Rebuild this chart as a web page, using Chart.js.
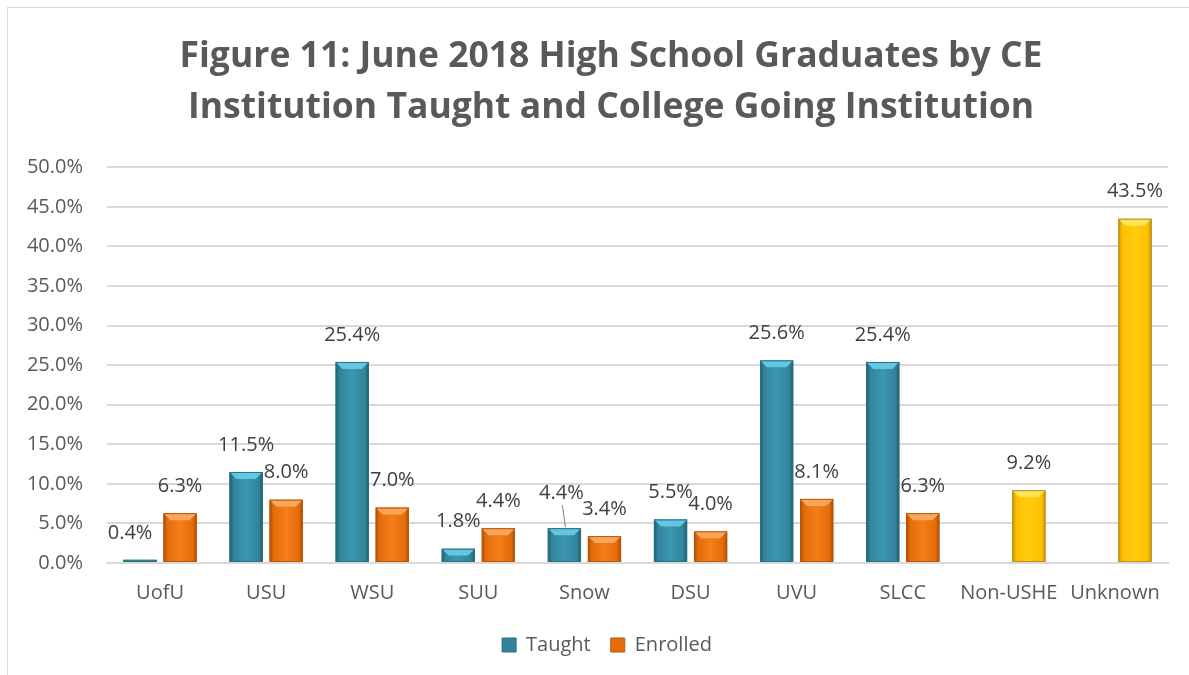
<!DOCTYPE html>
<html>
<head>
<meta charset="utf-8">
<script src="https://cdn.jsdelivr.net/npm/chart.js@4.4.1/dist/chart.umd.min.js"></script>
<style>
  html, body { margin: 0; padding: 0; background: #fff; overflow: hidden; }
  #frame { position: absolute; left: 7px; top: 7px; width: 1300px; height: 800px; border: 1px solid #d9d9d9; }
  #wrap { position: absolute; left: 0; top: 0; width: 1189px; height: 675px; }
</style>
</head>
<body>
<div id="frame"></div>
<div id="wrap"><canvas id="chart"></canvas></div>
<script>
// Datos del gráfico
const categories = ['UofU', 'USU', 'WSU', 'SUU', 'Snow', 'DSU', 'UVU', 'SLCC', 'Non-USHE', 'Unknown'];
const taught = [0.4, 11.5, 25.4, 1.8, 4.4, 5.5, 25.6, 25.4, null, null];
const enrolled = [6.3, 8.0, 7.0, 4.4, 3.4, 4.0, 8.1, 6.3, 9.2, 43.5];
const yTicks = [0, 5, 10, 15, 20, 25, 30, 35, 40, 45, 50];

const titleLines = ['Figure 11: June 2018 High School Graduates by CE', 'Institution Taught and College Going Institution'];

// colores (base, centro claro, borde oscuro, bisel)
const teal = { base: '#31849b', light: '#3b97b0', dark: '#1f5a6a', bevel: '#63c6e2', line: '#2a6f82' };
const orange = { base: '#e46c0a', light: '#f47e1a', dark: '#a94d05', bevel: '#f9a65a', line: '#b7580a' };
const yellow = { base: '#ffc000', light: '#ffcb10', dark: '#c99500', bevel: '#ffe45a', line: '#b39028' };

function enrolledPalette(i) {
    return taught[i] == null ? yellow : orange;
}

// etiquetas ligeramente desplazadas, como en el original
const labelNudge = { 'UofU-0': [-10, 0], 'Snow-0': [-3, -8] };

const FONT = "'Open Sans', 'DejaVu Sans', sans-serif";

// título y leyenda centrados sobre todo el marco, no solo el lienzo
const shiftBoxes = {
    id: 'shiftBoxes',
    afterLayout(chart) {
        chart.titleBlock.left += 27;
        chart.titleBlock.right += 27;
        chart.legend.left += 23;
        chart.legend.right += 23;
    }
};

const bevelBars = {
    id: 'bevelBars',
    afterDatasetsDraw(chart) {
        const ctx = chart.ctx;
        chart.data.datasets.forEach((ds, di) => {
            const meta = chart.getDatasetMeta(di);
            meta.data.forEach((bar, i) => {
                if (ds.data[i] == null) return;
                const p = bar.getProps(['x', 'y', 'base', 'width'], true);
                const pal = di === 0 ? teal : enrolledPalette(i);
                const l = p.x - p.width / 2, r = p.x + p.width / 2;
                const t = p.y, b = p.base;
                const h = b - t;
                const g = ctx.createLinearGradient(l, 0, r, 0);
                g.addColorStop(0, pal.dark);
                g.addColorStop(0.12, pal.base);
                g.addColorStop(0.5, pal.light);
                g.addColorStop(0.88, pal.base);
                g.addColorStop(1, pal.dark);
                ctx.save();
                ctx.fillStyle = g;
                ctx.fillRect(l, t, r - l, h);
                // bisel superior
                const bv = Math.min(7, h / 2);
                if (bv > 1) {
                    ctx.beginPath();
                    ctx.moveTo(l, t);
                    ctx.lineTo(r, t);
                    ctx.lineTo(r - 7, t + bv);
                    ctx.lineTo(l + 7, t + bv);
                    ctx.closePath();
                    ctx.fillStyle = pal.bevel;
                    ctx.fill();
                }
                ctx.strokeStyle = pal.line;
                ctx.lineWidth = 1;
                ctx.strokeRect(l + 0.5, t + 0.5, r - l - 1, h - 1);
                ctx.restore();
            });
        });
    }
};

const valueLabels = {
    id: 'valueLabels',
    afterDatasetsDraw(chart) {
        const ctx = chart.ctx;
        ctx.save();
        ctx.font = '20px ' + FONT;
        ctx.fillStyle = '#404040';
        ctx.textAlign = 'center';
        ctx.textBaseline = 'middle';
        chart.data.datasets.forEach((ds, di) => {
            const meta = chart.getDatasetMeta(di);
            meta.data.forEach((bar, i) => {
                const v = ds.data[i];
                if (v == null) return;
                const p = bar.getProps(['x', 'y'], true);
                const n = labelNudge[categories[i] + '-' + di] || [0, 0];
                const lx = p.x + n[0], ly = p.y - 27 + n[1];
                ctx.fillText(v.toFixed(1) + '%', lx, ly);
                if (n[1] < 0) {
                    ctx.strokeStyle = '#7f7f7f';
                    ctx.lineWidth = 1;
                    ctx.beginPath();
                    ctx.moveTo(lx + 1, ly + 12);
                    ctx.lineTo(p.x + 1, p.y - 1);
                    ctx.stroke();
                }
            });
        });
        ctx.restore();
    }
};

new Chart(document.getElementById('chart'), {
    type: 'bar',
    data: {
        labels: categories,
        datasets: [
            {
                label: 'Taught',
                data: taught,
                backgroundColor: teal.base,
                borderColor: teal.line,
                borderWidth: 1
            },
            {
                label: 'Enrolled',
                data: enrolled,
                backgroundColor: ctx => ctx.type === 'data' ? enrolledPalette(ctx.dataIndex).base : orange.base,
                borderColor: ctx => ctx.type === 'data' ? enrolledPalette(ctx.dataIndex).line : orange.line,
                borderWidth: 1
            }
        ]
    },
    options: {
        responsive: true,
        maintainAspectRatio: false,
        animation: false,
        categoryPercentage: 0.755,
        barPercentage: 0.83,
        layout: { padding: { left: 0, right: 21, top: 0, bottom: 10 } },
        plugins: {
            title: {
                display: true,
                text: titleLines,
                color: '#595959',
                font: { family: FONT, size: 35.5, weight: 'bold', lineHeight: 1.44 },
                padding: { top: 31, bottom: 34 }
            },
            legend: {
                position: 'bottom',
                labels: {
                    color: '#595959',
                    font: { family: FONT, size: 20 },
                    boxWidth: 14,
                    boxHeight: 14,
                    padding: 20
                }
            },
            tooltip: { enabled: false }
        },
        scales: {
            x: {
                grid: { display: false },
                border: { color: '#d9d9d9', width: 2 },
                ticks: { color: '#595959', font: { family: FONT, size: 20 }, padding: 10 }
            },
            y: {
                min: 0,
                max: 50,
                afterFit: s => { s.width = 107; },
                afterBuildTicks: s => { s.ticks = yTicks.map(v => ({ value: v })); },
                grid: { color: '#d9d9d9', lineWidth: 2, drawTicks: false },
                border: { display: false },
                ticks: {
                    color: '#595959',
                    font: { family: FONT, size: 20 },
                    padding: 24,
                    callback: v => v.toFixed(1) + '%'
                }
            }
        }
    },
    plugins: [shiftBoxes, bevelBars, valueLabels]
});
</script>
</body>
</html>
